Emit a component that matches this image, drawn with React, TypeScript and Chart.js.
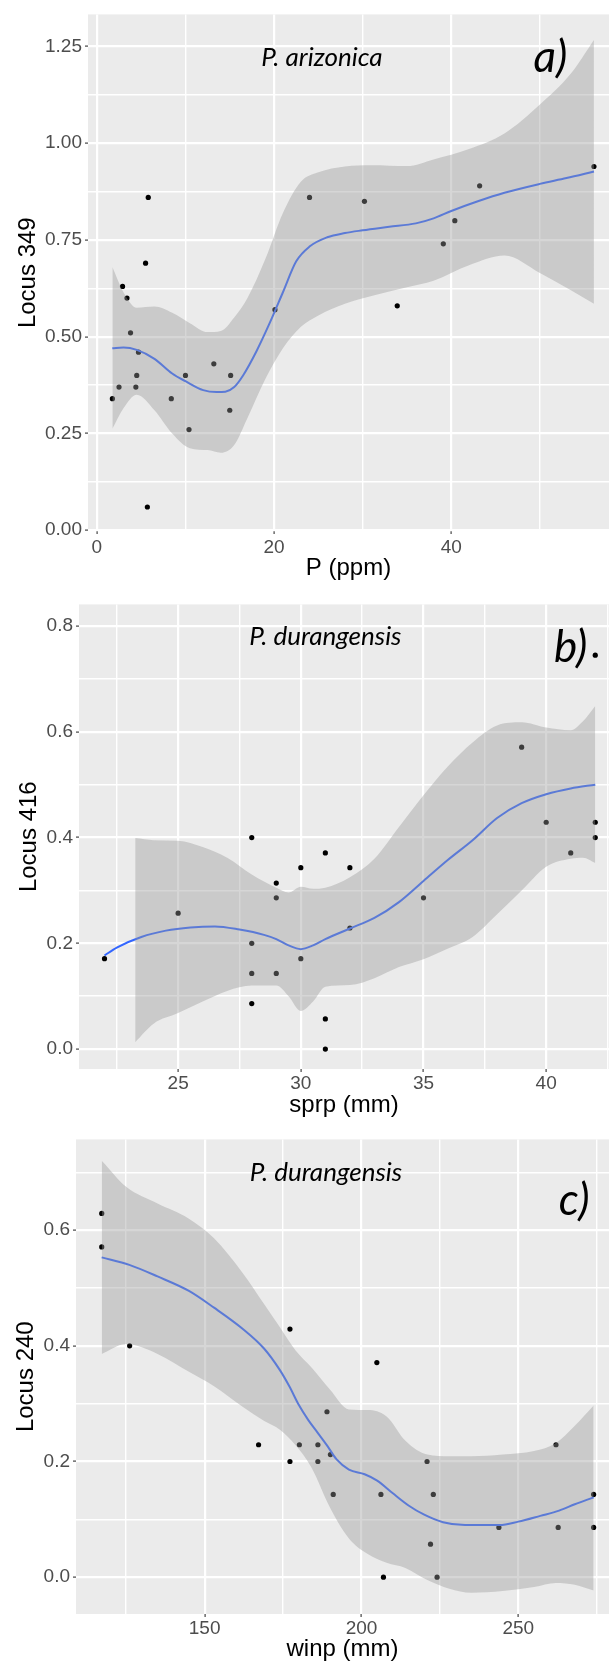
import React, { useEffect, useRef } from 'react';
import { Chart, registerables } from 'chart.js';

Chart.register(...registerables);

// ---------- Panel a: P. arizonica, Locus 349 vs P (ppm) ----------
const aObsX = [1.75, 2.5, 2.9, 3.4, 3.8, 4.4, 4.5, 4.7, 5.5, 5.7, 5.8, 8.4, 10, 10.4, 13.2, 15, 15.1, 20.1, 24, 30.2, 33.9, 39.1, 40.4, 43.2, 56.1];
const aObsY = [0.34, 0.37, 0.63, 0.60, 0.51, 0.37, 0.40, 0.46, 0.69, 0.06, 0.86, 0.34, 0.40, 0.26, 0.43, 0.31, 0.40, 0.57, 0.86, 0.85, 0.58, 0.74, 0.80, 0.89, 0.94];
const aFitX = [1.75, 3, 4.5, 6.5, 8.5, 10, 12, 13.5, 14.5, 15.5, 16.5, 18, 19.5, 21, 22.5, 24, 26, 28, 30, 33, 36, 38, 40, 43, 46, 50, 53, 56.1];
const aFitY = [0.470, 0.472, 0.466, 0.443, 0.405, 0.385, 0.362, 0.357, 0.358, 0.370, 0.400, 0.462, 0.535, 0.615, 0.695, 0.733, 0.757, 0.768, 0.775, 0.784, 0.793, 0.806, 0.825, 0.850, 0.872, 0.895, 0.910, 0.927];
const aBandX = [1.75, 3, 4.5, 6.5, 8.5, 10.5, 12.5, 14, 15.5, 17, 19, 21, 23, 25, 28, 31, 35, 38, 42, 46, 50, 53.5, 56.1];
const aBandHi = [0.68, 0.615, 0.575, 0.578, 0.562, 0.535, 0.512, 0.515, 0.55, 0.60, 0.70, 0.82, 0.90, 0.925, 0.94, 0.943, 0.941, 0.958, 0.985, 1.025, 1.10, 1.18, 1.267];
const aBandLo = [0.262, 0.315, 0.35, 0.31, 0.25, 0.212, 0.207, 0.20, 0.22, 0.29, 0.39, 0.47, 0.525, 0.555, 0.585, 0.605, 0.628, 0.645, 0.685, 0.71, 0.665, 0.62, 0.585];
const aXMajor = [0, 20, 40];
const aXMinor = [10, 30, 50];
const aYMajor = [0, 0.25, 0.5, 0.75, 1.0, 1.25];
const aYMinor = [0.125, 0.375, 0.625, 0.875, 1.125];

// ---------- Panel b: P. durangensis, Locus 416 vs sprp (mm) ----------
const bObsX = [22, 25, 28, 28, 28, 28, 29, 29, 29, 30, 30, 31, 31, 31, 32, 32, 35, 39, 40, 41, 42, 42, 42];
const bObsY = [0.171, 0.257, 0.4, 0.2, 0.143, 0.086, 0.314, 0.286, 0.143, 0.343, 0.171, 0.371, 0.057, 0, 0.343, 0.229, 0.286, 0.571, 0.429, 0.371, 0.745, 0.429, 0.4];
const bFitX = [22, 22.5, 23.5, 24.5, 25.5, 26.5, 27.5, 28.5, 29, 29.5, 30, 30.5, 31, 32, 33, 34, 35, 36, 37, 38, 39, 40, 41, 42];
const bFitY = [0.177, 0.192, 0.212, 0.224, 0.230, 0.232, 0.226, 0.216, 0.208, 0.196, 0.189, 0.196, 0.208, 0.228, 0.248, 0.278, 0.318, 0.358, 0.395, 0.437, 0.465, 0.482, 0.493, 0.500];
const bBandX = [23.25, 24, 25, 26, 27, 28, 29, 29.5, 30, 30.5, 31, 32, 33, 34, 35, 36, 37, 38, 39, 40, 41, 41.5, 42];
const bBandHi = [0.399, 0.395, 0.394, 0.382, 0.362, 0.33, 0.305, 0.296, 0.307, 0.303, 0.305, 0.325, 0.36, 0.42, 0.48, 0.535, 0.58, 0.612, 0.618, 0.608, 0.603, 0.62, 0.649];
const bBandLo = [0.013, 0.048, 0.068, 0.09, 0.11, 0.12, 0.12, 0.10, 0.072, 0.09, 0.118, 0.121, 0.134, 0.155, 0.17, 0.19, 0.212, 0.255, 0.30, 0.345, 0.36, 0.362, 0.352];
const bXMajor = [25, 30, 35, 40];
const bXMinor = [22.5, 27.5, 32.5, 37.5, 42.5];
const bYMajor = [0, 0.2, 0.4, 0.6, 0.8];
const bYMinor = [0.1, 0.3, 0.5, 0.7];

// ---------- Panel c: P. durangensis, Locus 240 vs winp (mm) ----------
const cObsX = [117.2, 117.2, 126.1, 167.2, 177.2, 177.2, 180.2, 186.1, 186.1, 189, 190.1, 191, 204.9, 206.2, 207, 220.9, 222, 222.9, 224.1, 243.8, 262, 262.7, 274, 274];
const cObsY = [0.629, 0.571, 0.4, 0.229, 0.429, 0.2, 0.229, 0.229, 0.2, 0.286, 0.212, 0.143, 0.371, 0.143, 0, 0.2, 0.057, 0.143, 0, 0.086, 0.229, 0.086, 0.143, 0.086];
const cFitX = [117.2, 126, 135, 145, 153, 162, 169, 174, 177, 180, 183, 186, 189, 192, 196, 201, 205, 210, 215, 220, 226, 233, 244, 250, 257, 263, 268, 274];
const cFitY = [0.553, 0.540, 0.520, 0.495, 0.466, 0.430, 0.395, 0.358, 0.330, 0.298, 0.272, 0.250, 0.228, 0.204, 0.186, 0.178, 0.167, 0.145, 0.124, 0.108, 0.095, 0.090, 0.090, 0.096, 0.106, 0.115, 0.126, 0.138];
const cBandX = [117.2, 125, 135, 145, 153, 162, 169, 174, 179, 184, 190, 196, 202, 208, 214, 221, 228, 235, 245, 255, 262, 268, 274];
const cBandHi = [0.72, 0.675, 0.646, 0.62, 0.586, 0.527, 0.472, 0.432, 0.392, 0.363, 0.324, 0.29, 0.289, 0.278, 0.236, 0.212, 0.209, 0.209, 0.212, 0.218, 0.232, 0.262, 0.297];
const cBandLo = [0.386, 0.403, 0.386, 0.355, 0.33, 0.295, 0.27, 0.255, 0.228, 0.19, 0.12, 0.067, 0.04, 0.025, 0.016, -0.005, -0.02, -0.027, -0.024, -0.017, -0.01, -0.013, -0.023];
const cXMajor = [150, 200, 250];
const cXMinor = [125, 175, 225, 275];
const cYMajor = [0, 0.2, 0.4, 0.6];
const cYMinor = [0.1, 0.3, 0.5, 0.7];

const zip = (xs: number[], ys: number[]) => xs.map((x, i) => ({ x, y: ys[i] }));

type Note = { text: string; x: number; y: number; size: number };
type Spec = {
  top: number; height: number; padTop: number; yAxisW: number; xAxisH: number;
  xRange: [number, number]; yRange: [number, number];
  xMajor: number[]; xMinor: number[]; yMajor: number[]; yMinor: number[];
  yDigits: number; xTitle: string; yTitle: string; yTitlePad: number; xTitlePad: number;
  xTickPad: number;
  obsX: number[]; obsY: number[]; fitX: number[]; fitY: number[];
  bandX: number[]; bandHi: number[]; bandLo: number[];
  notes: Note[];
};

const panels: Spec[] = [
  {
    top: 0, height: 590, padTop: 13, yAxisW: 88, xAxisH: 59,
    xRange: [-1.0, 57.8], yRange: [-0.002, 1.333],
    xMajor: aXMajor, xMinor: aXMinor, yMajor: aYMajor, yMinor: aYMinor,
    yDigits: 2, xTitle: 'P (ppm)', yTitle: 'Locus 349', yTitlePad: 13.6, xTitlePad: 7.6, xTickPad: 2,
    obsX: aObsX, obsY: aObsY, fitX: aFitX, fitY: aFitY, bandX: aBandX, bandHi: aBandHi, bandLo: aBandLo,
    notes: [
      { text: 'P. arizonica', x: 25.4, y: 1.222, size: 26 },
      { text: 'a)', x: 51.2, y: 1.222, size: 44 },
    ],
  },
  {
    top: 590, height: 535, padTop: 7, yAxisW: 79, xAxisH: 56,
    xRange: [20.96, 42.56], yRange: [-0.0377, 0.841],
    xMajor: bXMajor, xMinor: bXMinor, yMajor: bYMajor, yMinor: bYMinor,
    yDigits: 1, xTitle: 'sprp (mm)', yTitle: 'Locus 416', yTitlePad: 14.6, xTitlePad: 5.6, xTickPad: 0,
    obsX: bObsX, obsY: bObsY, fitX: bFitX, fitY: bFitY, bandX: bBandX, bandHi: bBandHi, bandLo: bBandLo,
    notes: [
      { text: 'P. durangensis', x: 31.0, y: 0.781, size: 26 },
      { text: 'b)', x: 41.0, y: 0.759, size: 44 },
    ],
  },
  {
    top: 1125, height: 539, padTop: 8, yAxisW: 76, xAxisH: 50,
    xRange: [109, 278.9], yRange: [-0.0637, 0.757],
    xMajor: cXMajor, xMinor: cXMinor, yMajor: cYMajor, yMinor: cYMinor,
    yDigits: 1, xTitle: 'winp (mm)', yTitle: 'Locus 240', yTitlePad: 11.6, xTitlePad: 0.6, xTickPad: 0,
    obsX: cObsX, obsY: cObsY, fitX: cFitX, fitY: cFitY, bandX: cBandX, bandHi: cBandHi, bandLo: cBandLo,
    notes: [
      { text: 'P. durangensis', x: 188.7, y: 0.699, size: 26 },
      { text: 'c)', x: 267.8, y: 0.651, size: 44 },
    ],
  },
];

const isIn = (v: number, arr: number[]) => arr.some((a) => Math.abs(a - v) < 1e-9);

function Panel({ spec }: { spec: Spec }) {
  const ref = useRef<HTMLCanvasElement>(null);
  useEffect(() => {
    if (!ref.current) return;
    const decor = {
      id: 'decor',
      beforeDraw(chart: any) {
        const { ctx, chartArea } = chart;
        ctx.save();
        ctx.fillStyle = '#EBEBEB';
        ctx.fillRect(chartArea.left, chartArea.top, chartArea.right - chartArea.left, chartArea.bottom - chartArea.top);
        ctx.restore();
      },
      afterDatasetsDraw(chart: any) {
        const { ctx } = chart;
        ctx.save();
        ctx.fillStyle = '#000';
        ctx.textAlign = 'center';
        ctx.textBaseline = 'middle';
        for (const n of spec.notes) {
          ctx.font = `italic ${n.size}px Lato`;
          ctx.fillText(n.text, chart.scales.x.getPixelForValue(n.x), chart.scales.y.getPixelForValue(n.y));
        }
        ctx.restore();
      },
    };
    const mkTicks = (major: number[], minor: number[], lo: number, hi: number) =>
      [...major, ...minor].filter((v) => v >= lo && v <= hi).sort((p, q) => p - q).map((value) => ({ value }));
    const gridFor = (major: number[]) => ({
      color: '#FFFFFF',
      lineWidth: (c: any) => (c.tick && isIn(c.tick.value, major) ? 2.2 : 1.4),
      tickColor: (c: any) => (c.tick && isIn(c.tick.value, major) ? '#444444' : 'rgba(0,0,0,0)'),
      tickWidth: 1.2,
      tickLength: 3,
      drawTicks: true,
    });
    const tickFont = { family: '"Liberation Sans", Arial, sans-serif', size: 19 };
    const titleFont = { family: '"Liberation Sans", Arial, sans-serif', size: 24 };
    const chart = new Chart(ref.current, {
      type: 'line',
      data: {
        datasets: [
          {
            data: zip(spec.bandX, spec.bandHi),
            borderColor: 'rgba(0,0,0,0)', borderWidth: 1, pointRadius: 0,
            backgroundColor: 'rgba(153,153,153,0.4)', fill: '+1',
            cubicInterpolationMode: 'monotone',
          },
          {
            data: zip(spec.bandX, spec.bandLo),
            borderColor: 'rgba(0,0,0,0)', borderWidth: 1, pointRadius: 0, fill: false,
            cubicInterpolationMode: 'monotone',
          },
          {
            data: zip(spec.fitX, spec.fitY),
            borderColor: '#3366FF', borderWidth: 2, pointRadius: 0, fill: false,
            cubicInterpolationMode: 'monotone',
          },
          {
            data: zip(spec.obsX, spec.obsY),
            showLine: false, pointRadius: 2.6, pointBackgroundColor: '#000000',
            pointBorderWidth: 0, borderColor: 'rgba(0,0,0,0)', fill: false,
          },
        ],
      } as any,
      options: {
        responsive: false,
        animation: false,
        events: [],
        layout: { padding: { top: spec.padTop, left: 0, right: 0, bottom: 0 } },
        plugins: { legend: { display: false }, tooltip: { enabled: false } },
        scales: {
          x: {
            type: 'linear',
            min: spec.xRange[0], max: spec.xRange[1],
            bounds: 'data',
            afterBuildTicks: (s: any) => { s.ticks = mkTicks(spec.xMajor, spec.xMinor, spec.xRange[0], spec.xRange[1]); },
            afterFit: (s: any) => { s.height = spec.xAxisH; },
            border: { display: false },
            grid: gridFor(spec.xMajor),
            ticks: {
              autoSkip: false, maxRotation: 0, minRotation: 0, padding: spec.xTickPad,
              color: '#4D4D4D', font: tickFont,
              callback: (v: any) => (isIn(Number(v), spec.xMajor) ? String(v) : ''),
            },
            title: { display: true, text: spec.xTitle, color: '#000', font: titleFont, padding: { top: 0, bottom: spec.xTitlePad } },
          },
          y: {
            type: 'linear',
            min: spec.yRange[0], max: spec.yRange[1],
            bounds: 'data',
            afterBuildTicks: (s: any) => { s.ticks = mkTicks(spec.yMajor, spec.yMinor, spec.yRange[0], spec.yRange[1]); },
            afterFit: (s: any) => { s.width = spec.yAxisW; },
            border: { display: false },
            grid: gridFor(spec.yMajor),
            ticks: {
              autoSkip: false, padding: 3,
              color: '#4D4D4D', font: tickFont,
              callback: (v: any) => (isIn(Number(v), spec.yMajor) ? Number(v).toFixed(spec.yDigits) : ''),
            },
            title: { display: true, text: spec.yTitle, color: '#000', font: titleFont, padding: { top: spec.yTitlePad, bottom: 0 } },
          },
        },
      } as any,
      plugins: [decor],
    });
    return () => chart.destroy();
  }, [spec]);
  return (
    <canvas
      ref={ref}
      width={613}
      height={spec.height}
      style={{ position: 'absolute', left: 0, top: spec.top, width: 613, height: spec.height, display: 'block' }}
    />
  );
}

export default function App() {
  return (
    <div style={{ position: 'absolute', left: 0, top: 0, width: 613, height: 1664, background: '#FFFFFF', overflow: 'hidden' }}>
      {panels.map((p, i) => (
        <Panel key={i} spec={p} />
      ))}
    </div>
  );
}
